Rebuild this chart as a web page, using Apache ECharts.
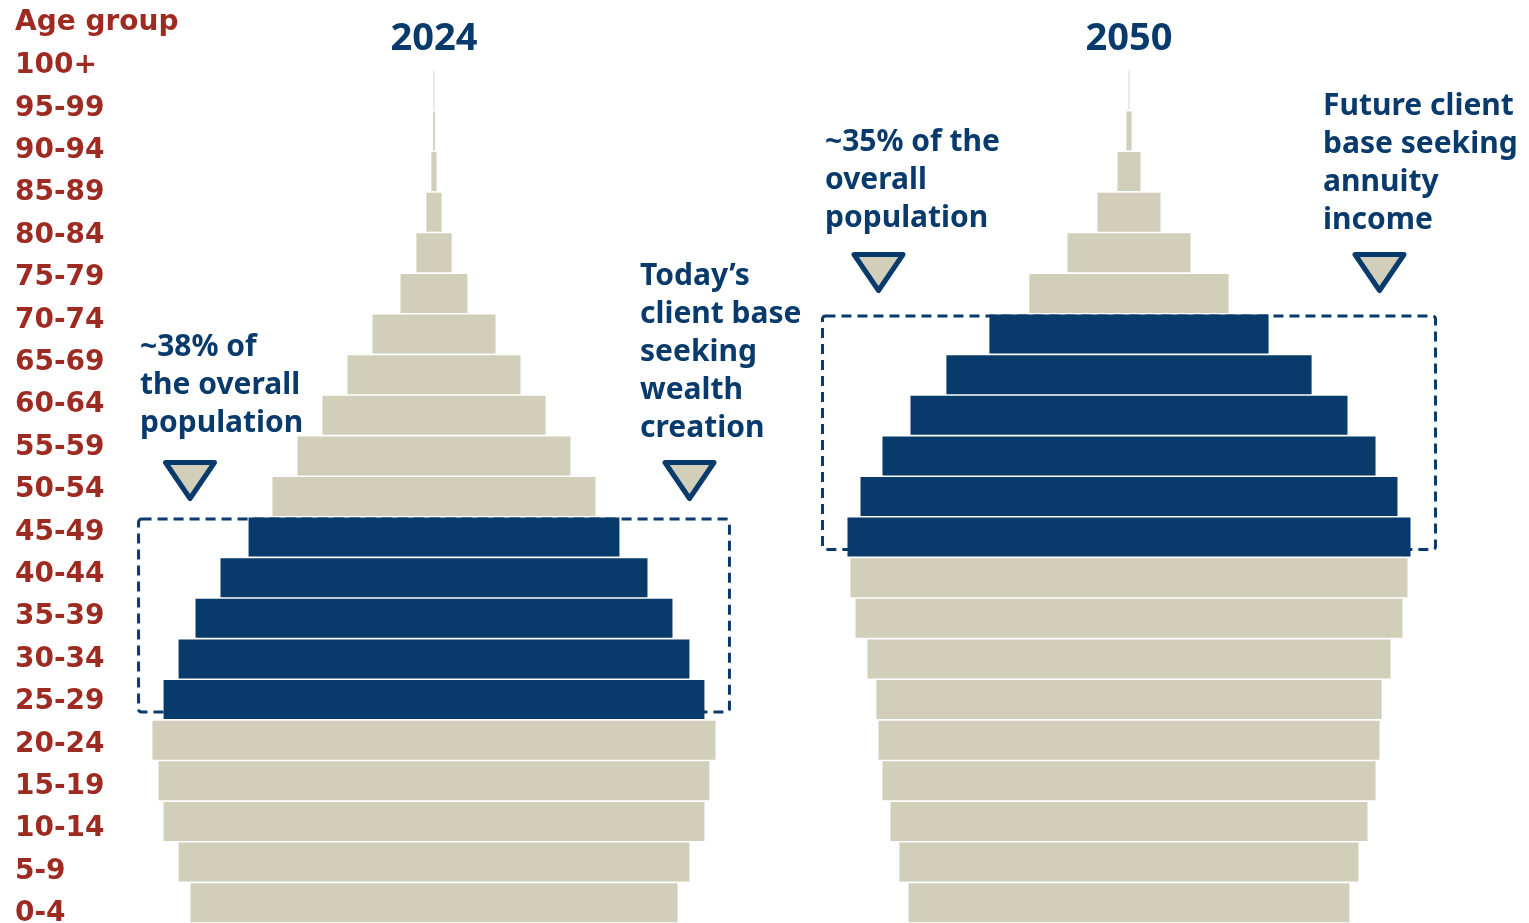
<!DOCTYPE html>
<html>
<head>
<meta charset="utf-8">
<title>Population pyramid 2024 vs 2050</title>
<script src="https://cdn.jsdelivr.net/npm/echarts@6/dist/echarts.min.js"></script>
<style>
  html, body { margin: 0; padding: 0; background: #fff; }
  #charts { width: 1529px; height: 923px; }
</style>
</head>
<body>
<div id="charts"></div>
<script>
// age groups, bottom of the pyramid first
const ageGroups = ['0-4', '5-9', '10-14', '15-19', '20-24', '25-29', '30-34', '35-39', '40-44', '45-49',
  '50-54', '55-59', '60-64', '65-69', '70-74', '75-79', '80-84', '85-89', '90-94', '95-99', '100+'];

// population per age group (millions)
const pop2024 = [112.0, 117.5, 124.4, 126.7, 129.5, 124.4, 117.5, 109.7, 98.2, 85.3,
  74.3, 62.8, 51.3, 39.8, 28.3, 15.4, 8.1, 3.5, 1.2, 0.4, 0.2];
const pop2050 = [101.4, 105.6, 109.7, 113.4, 115.2, 116.2, 120.3, 125.8, 128.1, 129.5,
  123.5, 113.4, 100.5, 84.0, 64.2, 45.8, 28.3, 14.5, 5.3, 1.2, 0.2];

// highlighted age groups (inside the dashed box)
const focus2024 = ['25-29', '30-34', '35-39', '40-44', '45-49'];
const focus2050 = ['45-49', '50-54', '55-59', '60-64', '65-69', '70-74'];

const years = ['2024', '2050'];

const NAVY = '#083A6B';
const SAND = '#D1CEBA';
const RED = '#9E2B22';
const NOTE_FONT = 'bold 30px "Noto Sans"';

let chart = echarts.init(document.getElementById('charts'));

// each pyramid = two stacked halves, one going left and one going right
function pyramidSeries(values, focus, idx) {
  return [-1, 1].map(sign => ({
    type: 'bar',
    xAxisIndex: idx,
    yAxisIndex: idx,
    stack: 'pop' + idx,
    barWidth: '96%',
    silent: true,
    data: values.map((v, i) => ({
      value: sign * v / 2,
      itemStyle: { color: focus.includes(ageGroups[i]) ? NAVY : SAND }
    }))
  }));
}

let option = {
  animation: false,
  title: years.map((y, i) => ({
    text: y,
    left: i === 0 ? 434 : 1129,
    top: 20,
    textAlign: 'center',
    padding: 0,
    textStyle: { color: NAVY, fontFamily: 'Noto Sans', fontWeight: 'bold', fontSize: 38 }
  })),
  grid: [
    { left: 134, top: 70, width: 600, bottom: 0, outerBoundsMode: 'none' },
    { left: 829, top: 70, width: 600, bottom: 0, outerBoundsMode: 'none' },
    // only carries the age labels on the left
    { left: 15, top: 66, width: 10, height: 848, outerBoundsMode: 'none' }
  ],
  xAxis: [
    { gridIndex: 0, type: 'value', min: -69, max: 69, show: false },
    { gridIndex: 1, type: 'value', min: -69, max: 69, show: false },
    { gridIndex: 2, type: 'value', show: false }
  ],
  yAxis: [
    { gridIndex: 0, type: 'category', data: ageGroups, show: false },
    { gridIndex: 1, type: 'category', data: ageGroups, show: false },
    {
      gridIndex: 2,
      type: 'category',
      data: ageGroups,
      boundaryGap: false,
      axisLine: { show: false },
      axisTick: { show: false },
      splitLine: { show: false },
      axisLabel: {
        interval: 0, align: 'left', margin: 0,
        color: RED, fontFamily: 'DejaVu Sans', fontWeight: 'bold', fontSize: 28
      },
      name: 'Age group',
      nameLocation: 'end',
      nameGap: 43,
      nameTextStyle: {
        align: 'left', verticalAlign: 'middle',
        color: RED, fontFamily: 'DejaVu Sans', fontWeight: 'bold', fontSize: 28
      }
    }
  ],
  series: [...pyramidSeries(pop2024, focus2024, 0), ...pyramidSeries(pop2050, focus2050, 1)]
};

chart.setOption(option);

// dashed box around the highlighted rows, placed through the axes
function focusBox(gridIndex, values, focus) {
  let maxHalf = Math.max(...focus.map(a => values[ageGroups.indexOf(a)])) / 2;
  let lo = ageGroups.indexOf(focus[0]);
  let hi = ageGroups.indexOf(focus[focus.length - 1]);
  let p1 = chart.convertToPixel({ gridIndex: gridIndex }, [-maxHalf, hi]);
  let p2 = chart.convertToPixel({ gridIndex: gridIndex }, [maxHalf, lo]);
  let x = p1[0] - 25;
  let y = p1[1] - 18;
  return {
    type: 'rect',
    z: 1,
    silent: true,
    shape: { x: x, y: y, width: p2[0] + 25 - x, height: p2[1] + 12.5 - y, r: 3 },
    style: { fill: 'none', stroke: NAVY, lineWidth: 3, lineDash: [10, 6] }
  };
}

function arrow(cx, top) {
  return {
    type: 'polygon',
    z: 5,
    silent: true,
    shape: { points: [[cx - 24.5, top], [cx + 24.5, top], [cx, top + 36]] },
    style: { fill: SAND, stroke: NAVY, lineWidth: 5, lineJoin: 'round' }
  };
}

function note(x, y, text) {
  return {
    type: 'text',
    z: 5,
    silent: true,
    x: x,
    y: y,
    style: { text: text, font: NOTE_FONT, fill: NAVY, lineHeight: 38, verticalAlign: 'top' }
  };
}

chart.setOption({
  graphic: [
    focusBox(0, pop2024, focus2024),
    focusBox(1, pop2050, focus2050),
    arrow(190, 462.5),
    arrow(689.5, 462.5),
    arrow(878.5, 254.5),
    arrow(1379.5, 254.5),
    note(140, 328, '~38% of\nthe overall\npopulation'),
    note(640, 257, 'Today\u2019s\nclient base\nseeking\nwealth\ncreation'),
    note(825, 123, '~35% of the\noverall\npopulation'),
    note(1323, 87, 'Future client\nbase seeking\nannuity\nincome')
  ]
});
</script>
</body>
</html>
